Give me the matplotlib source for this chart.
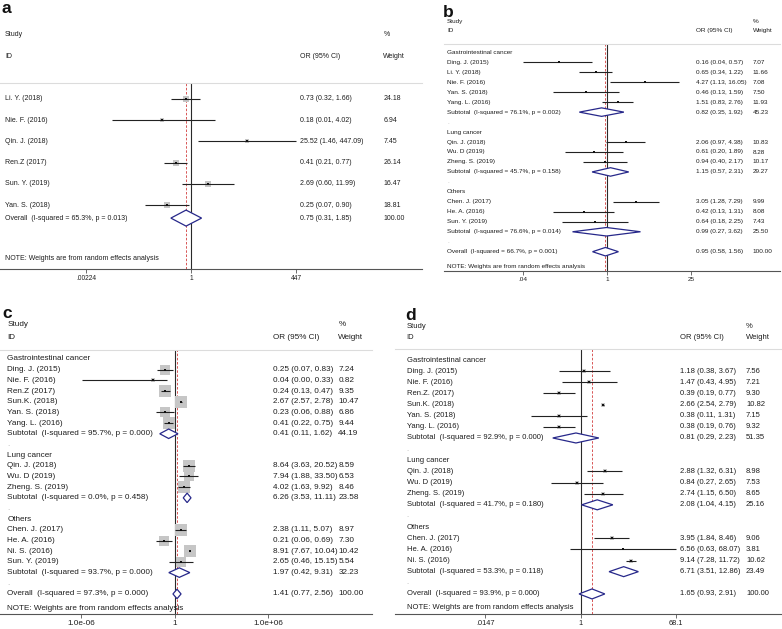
import matplotlib
matplotlib.use("Agg")
import matplotlib.pyplot as plt
from matplotlib import transforms
from matplotlib.patches import Polygon
from matplotlib.ticker import NullLocator

plt.rcParams['font.family'] = ['Liberation Sans', 'DejaVu Sans']

# ---------------- data ----------------
# Panel a
a_studies = ["Li. Y. (2018)", "Nie. F. (2016)", "Qin. J. (2018)", "Ren.Z (2017)",
             "Sun. Y. (2019)", "Yan. S. (2018)"]
a_or = [0.73, 0.18, 25.52, 0.41, 2.69, 0.25]
a_lo = [0.32, 0.01, 1.46, 0.21, 0.60, 0.07]
a_hi = [1.66, 4.02, 447.09, 0.77, 11.99, 0.90]
a_wt = [24.18, 6.94, 7.45, 26.14, 16.47, 18.81]
a_overall = [0.75, 0.31, 1.85]
a_overall_het = "I-squared = 65.3%, p = 0.013"
a_ticks = [0.00224, 1, 447]
a_ticklabels = [".00224", "1", "447"]

# Panel b
b_groups = ["Gastrointestinal cancer", "Lung cancer", "Others"]
b_group = [0, 0, 0, 0, 0, 1, 1, 1, 2, 2, 2]
b_studies = ["Ding. J. (2015)", "Li. Y. (2018)", "Nie. F. (2016)", "Yan. S. (2018)",
             "Yang. L. (2016)", "Qin. J. (2018)", "Wu. D (2019)", "Zheng. S. (2019)",
             "Chen. J. (2017)", "He. A. (2016)", "Sun. Y. (2019)"]
b_or = [0.16, 0.65, 4.27, 0.46, 1.51, 2.06, 0.61, 0.94, 3.05, 0.42, 0.64]
b_lo = [0.04, 0.34, 1.13, 0.13, 0.83, 0.97, 0.20, 0.40, 1.28, 0.13, 0.18]
b_hi = [0.57, 1.22, 16.05, 1.59, 2.76, 4.38, 1.89, 2.17, 7.29, 1.31, 2.25]
b_wt = [7.07, 11.66, 7.08, 7.50, 11.93, 10.83, 8.28, 10.17, 9.99, 8.08, 7.43]
b_sub_or = [0.82, 1.15, 0.99]
b_sub_lo = [0.35, 0.57, 0.27]
b_sub_hi = [1.92, 2.31, 3.62]
b_sub_wt = [45.23, 29.27, 25.50]
b_sub_het = ["I-squared = 76.1%, p = 0.002", "I-squared = 45.7%, p = 0.158",
             "I-squared = 76.6%, p = 0.014"]
b_overall = [0.95, 0.58, 1.56]
b_overall_het = "I-squared = 66.7%, p = 0.001"
b_ticks = [0.04, 1, 25]
b_ticklabels = [".04", "1", "25"]

# Panel c
c_groups = ["Gastrointestinal cancer", "Lung cancer", "Others"]
c_group = [0, 0, 0, 0, 0, 0, 1, 1, 1, 2, 2, 2, 2]
c_studies = ["Ding. J. (2015)", "Nie. F. (2016)", "Ren.Z (2017)", "Sun.K. (2018)",
             "Yan. S. (2018)", "Yang. L. (2016)", "Qin. J. (2018)", "Wu. D (2019)",
             "Zheng. S. (2019)", "Chen. J. (2017)", "He. A. (2016)", "Ni. S. (2016)",
             "Sun. Y. (2019)"]
c_or = [0.25, 0.04, 0.24, 2.67, 0.23, 0.41, 8.64, 7.94, 4.02, 2.38, 0.21, 8.91, 2.65]
c_lo = [0.07, 1.2e-6, 0.13, 2.57, 0.06, 0.22, 3.63, 1.88, 1.63, 1.11, 0.06, 7.67, 0.46]
c_hi = [0.83, 0.33, 0.47, 2.78, 0.88, 0.75, 20.52, 33.50, 9.92, 5.07, 0.69, 10.04, 15.15]
c_wt = [7.24, 0.82, 9.35, 10.47, 6.86, 9.44, 8.59, 6.53, 8.46, 8.97, 7.30, 10.42, 5.54]
c_sub_or = [0.41, 6.26, 1.97]
c_sub_lo = [0.11, 3.53, 0.42]
c_sub_hi = [1.62, 11.11, 9.31]
c_sub_wt = [44.19, 23.58, 32.23]
c_sub_het = ["I-squared = 95.7%, p = 0.000", "I-squared = 0.0%, p = 0.458",
             "I-squared = 93.7%, p = 0.000"]
c_overall = [1.41, 0.77, 2.56]
c_overall_het = "I-squared = 97.3%, p = 0.000"
c_ticks = [1e-6, 1, 1e6]
c_ticklabels = ["1.0e-06", "1", "1.0e+06"]

# Panel d
d_groups = ["Gastrointestinal cancer", "Lung cancer", "Others"]
d_group = [0, 0, 0, 0, 0, 0, 1, 1, 1, 2, 2, 2]
d_studies = ["Ding. J. (2015)", "Nie. F. (2016)", "Ren.Z. (2017)", "Sun.K. (2018)",
             "Yan. S. (2018)", "Yang. L. (2016)", "Qin. J. (2018)", "Wu. D (2019)",
             "Zheng. S. (2019)", "Chen. J. (2017)", "He. A. (2016)", "Ni. S. (2016)"]
d_or = [1.18, 1.47, 0.39, 2.66, 0.38, 0.38, 2.88, 0.84, 2.74, 3.95, 6.56, 9.14]
d_lo = [0.38, 0.43, 0.19, 2.54, 0.11, 0.19, 1.32, 0.27, 1.15, 1.84, 0.63, 7.28]
d_hi = [3.67, 4.95, 0.77, 2.79, 1.31, 0.76, 6.31, 2.65, 6.50, 8.46, 68.07, 11.72]
d_wt = [7.56, 7.21, 9.30, 10.82, 7.15, 9.32, 8.98, 7.53, 8.65, 9.06, 3.81, 10.62]
d_sub_or = [0.81, 2.08, 6.71]
d_sub_lo = [0.29, 1.04, 3.51]
d_sub_hi = [2.23, 4.15, 12.86]
d_sub_wt = [51.35, 25.16, 23.49]
d_sub_het = ["I-squared = 92.9%, p = 0.000", "I-squared = 41.7%, p = 0.180",
             "I-squared = 53.3%, p = 0.118"]
d_overall = [1.65, 0.93, 2.91]
d_overall_het = "I-squared = 93.9%, p = 0.000"
d_ticks = [0.0147, 1, 68.1]
d_ticklabels = [".0147", "1", "68.1"]

NOTE = "NOTE: Weights are from random effects analysis"

# ---------------- drawing ----------------
W, H = 782, 629
fig = plt.figure(figsize=(W / 100, H / 100), dpi=100)

TXT = '#1e1e1e'
NAVY = '#27288a'
BOX = '#c6c6c6'


def ci_text(o, l, h):
    return f"{o:.2f} ({l:.2f}, {h:.2f})"


def draw_panel(L, studies, ors, los, his, wts, overall, overall_het, ticks, ticklabels,
               groups=None, group=None, sub_or=None, sub_lo=None, sub_hi=None,
               sub_wt=None, sub_het=None):
    x0, x1, cpx, ppd = L['x0'], L['x1'], L['c'], L['ppd']
    top, bot = L['header'], L['axis']
    ax = fig.add_axes([x0 / W, 1 - bot / H, (x1 - x0) / W, (bot - top) / H])
    ax.patch.set_visible(False)
    ax.set_xscale('log')
    ax.set_xlim(10 ** ((x0 - cpx) / ppd), 10 ** ((x1 - cpx) / ppd))
    ax.set_ylim(bot, top)
    for s in ('left', 'right'):
        ax.spines[s].set_visible(False)
    ax.spines['top'].set_color('#dcdcdc')
    ax.spines['top'].set_linewidth(0.8)
    ax.spines['bottom'].set_color('#555555')
    ax.spines['bottom'].set_linewidth(0.8)
    ax.set_yticks([])
    ax.set_xticks(ticks)
    ax.set_xticklabels(ticklabels)
    ax.xaxis.set_minor_locator(NullLocator())
    ax.tick_params(axis='x', direction='out', length=3, width=0.6, color='#555555',
                   pad=L['tpad'], labelsize=L['tfs'], labelcolor=TXT)

    fs = L['fs']
    tr = transforms.blended_transform_factory(fig.transFigure, ax.transData)

    def txt(xpx, ypx, s, color=TXT, size=None):
        ax.text(xpx / W, ypx, s, transform=tr, ha='left', va='center',
                fontsize=size or fs, color=color, clip_on=False)

    # headers
    txt(L['lab'], L['sy'], "Study")
    txt(L['lab'], L['iy'], "ID")
    txt(L['orx'], L['iy'], "OR (95% CI)")
    txt(L['wtx'], L['sy'], "%")
    txt(L['wtx'], L['iy'], "Weight")

    # reference lines
    ax.axvline(1, color='#2a2a2a', lw=0.8, zorder=1)
    ax.axvline(overall[0], color='#d23c3c', lw=0.6, ls=(0, (3, 2)), zorder=1.5)

    row0, sp = L['row0'], L['sp']
    k = L['boxk']
    dh = L['dh']

    def study(i, y):
        side = k * wts[i] ** 0.5 * 72 / 100
        ax.scatter([ors[i]], [y], marker='s', s=side ** 2, color=BOX, linewidths=0, zorder=2)
        ax.hlines(y, los[i], his[i], color='#222222', lw=0.8, zorder=3)
        ax.plot([ors[i]], [y], marker='s', ms=2.1, color='#111111', mew=0, zorder=4)
        txt(L['lab'], y, studies[i])
        txt(L['orx'], y, ci_text(ors[i], los[i], his[i]))
        txt(L['wtx'], y, f"{wts[i]:.2f}")

    def diamond(o, l, h, y):
        poly = Polygon([(l, y), (o, y - dh / 2), (h, y), (o, y + dh / 2)], closed=True,
                       facecolor='white', edgecolor=NAVY, lw=0.9, zorder=5)
        ax.add_patch(poly)

    if groups is None:
        for i in range(len(studies)):
            study(i, row0 + i * sp)
        y = row0 + L['ovr'] * sp
    else:
        r = 0
        for g, gname in enumerate(groups):
            txt(L['lab'], row0 + r * sp, gname)
            r += 1
            for i in range(len(studies)):
                if group[i] == g:
                    study(i, row0 + r * sp)
                    r += 1
            y = row0 + r * sp
            diamond(sub_or[g], sub_lo[g], sub_hi[g], y)
            txt(L['lab'], y, f"Subtotal  ({sub_het[g]})")
            txt(L['orx'], y, ci_text(sub_or[g], sub_lo[g], sub_hi[g]))
            txt(L['wtx'], y, f"{sub_wt[g]:.2f}")
            r += 1
            txt(L['lab'], row0 + r * sp, ".", color='#aaaaaa')
            r += 1
        y = row0 + r * sp
    diamond(overall[0], overall[1], overall[2], y)
    txt(L['lab'], y, f"Overall  ({overall_het})")
    txt(L['orx'], y, ci_text(*overall))
    txt(L['wtx'], y, "100.00")
    txt(L['lab'], L['note'], NOTE)
    return ax


La = dict(x0=0, x1=422, c=191, ppd=39.6, header=83, axis=268.5, row0=98.7, sp=21.32,
          fs=5.0, tfs=4.8, tpad=1.5, lab=5, orx=300.3, wtx=383.3, sy=34, iy=56,
          note=258.3, boxk=1.25, dh=16, ovr=5.6)
Lb = dict(x0=444, x1=780, c=606.8, ppd=60.3, header=43.7, axis=271, row0=52.3, sp=9.97,
          fs=4.6, tfs=4.6, tpad=1.2, lab=447, orx=696, wtx=752.7, sy=21.7, iy=30.3,
          note=266.7, boxk=0.8, dh=8.5)
Lc = dict(x0=0, x1=371.7, c=174.7, ppd=15.6, header=350, axis=614, row0=359, sp=10.68,
          fs=5.85, tfs=5.9, tpad=1.2, lab=7.3, orx=272.7, wtx=338.3, sy=325, iy=337.3,
          note=608.5, boxk=4.0, dh=9.5)
Ld = dict(x0=395, x1=781, c=580.7, ppd=52, header=349.3, axis=614, row0=360, sp=11.14,
          fs=5.5, tfs=5.3, tpad=1.2, lab=406.7, orx=680, wtx=746, sy=326.7, iy=337.3,
          note=607.5, boxk=1.3, dh=10)

draw_panel(La, a_studies, a_or, a_lo, a_hi, a_wt, a_overall, a_overall_het,
           a_ticks, a_ticklabels)
draw_panel(Lb, b_studies, b_or, b_lo, b_hi, b_wt, b_overall, b_overall_het,
           b_ticks, b_ticklabels, b_groups, b_group, b_sub_or, b_sub_lo, b_sub_hi,
           b_sub_wt, b_sub_het)
draw_panel(Lc, c_studies, c_or, c_lo, c_hi, c_wt, c_overall, c_overall_het,
           c_ticks, c_ticklabels, c_groups, c_group, c_sub_or, c_sub_lo, c_sub_hi,
           c_sub_wt, c_sub_het)
draw_panel(Ld, d_studies, d_or, d_lo, d_hi, d_wt, d_overall, d_overall_het,
           d_ticks, d_ticklabels, d_groups, d_group, d_sub_or, d_sub_lo, d_sub_hi,
           d_sub_wt, d_sub_het)

for (lx, ly, s) in [(2, 13.3, 'a'), (443, 16.7, 'b'), (2, 318.3, 'c'), (405, 320, 'd')]:
    fig.text(lx / W, 1 - ly / H, s, fontsize=12.5, fontweight='bold', color='#111111',
             ha='left', va='baseline')

fig.savefig("out.png", dpi=100)
